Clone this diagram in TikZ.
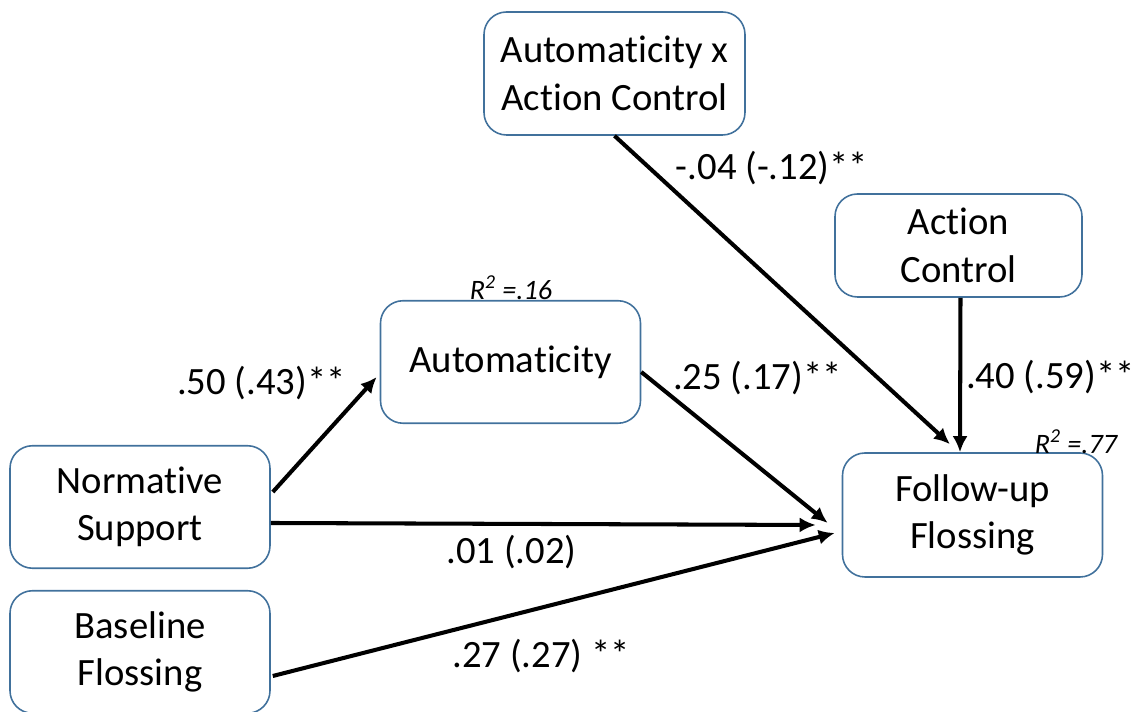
\documentclass[tikz,border=0pt]{standalone}
\usepackage{fontspec}
\setmainfont{Carlito}[Ligatures=NoCommon]
\usepackage{xcolor}
\definecolor{boxblue}{HTML}{41719C}
\usetikzlibrary{arrows.meta,calc}

\begin{document}
\begin{tikzpicture}[
    var/.style={draw=boxblue, line width=0.9pt, rounded corners=0.45cm, align=center,
        minimum width=5.2cm, minimum height=2.45cm, font=\fontsize{22}{27}\selectfont},
    path/.style={line width=2.3pt, -{Latex[length=0.32cm,width=0.3cm]}},
    coef/.style={font=\fontsize{22}{26}\selectfont},
    rsq/.style={font=\fontsize{16}{19}\selectfont\itshape}
]
    \useasboundingbox (0,0) rectangle (22.82,14.24);

    % variables
    \node[var, minimum width=5.22cm, minimum height=2.46cm] (axac) at (12.29,12.77) {Automaticity x\\Action Control};
    \node[var, minimum width=4.94cm, minimum height=2.06cm] (ac) at (19.17,9.33) {Action\\Control};
    \node[var] (aut) at (10.21,7.00) {Automaticity};
    \node[var, minimum height=2.48cm] (fu) at (19.45,3.94) {Follow-up\\Flossing};
    \node[var] (ns) at (2.80,4.10) {Normative\\Support};
    \node[var] (bf) at (2.80,1.20) {Baseline\\Flossing};

    % R squared
    \node[rsq] (r2aut) at (10.22,8.48) {R\textsuperscript{2} =.16};
    \node[rsq] (r2fu) at (21.52,5.40) {R\textsuperscript{2} =.77};

    % paths
    \draw[path] ($(ns.east)+(0.04,0.3)$) -- ($(aut.west)+(-0.06,-0.3)$);
    \draw[path] ($(ns.east)+(0,-0.32)$) -- ($(fu.west)+(-0.52,-0.2)$);
    \draw[path] ($(bf.east)+(0.04,-0.48)$) -- ($(fu.west)+(-0.14,-0.36)$);
    \draw[path] ($(aut.east)+(0,-0.2)$) -- ($(fu.west)+(-0.28,-0.16)$);
    \draw[path] (axac.south) -- ($(fu.north)+(-0.45,0.16)$);
    \draw[path] ($(ac.south)+(0.04,0)$) -- ($(fu.north)+(-0.25,0)$);

    % coefficients
    \node[coef] (c1) at (5.23,6.58) {.50 (.43)**};
    \node[coef] (c2) at (15.44,10.88) {-.04 (-.12)**};
    \node[coef] (c3) at (15.15,6.68) {.25 (.17)**};
    \node[coef] (c4) at (21.01,6.70) {.40 (.59)**};
    \node[coef] (c5) at (10.23,3.20) {.01 (.02)};
    \node[coef] (c6) at (10.82,1.12) {.27 (.27) **};
\end{tikzpicture}
\end{document}
